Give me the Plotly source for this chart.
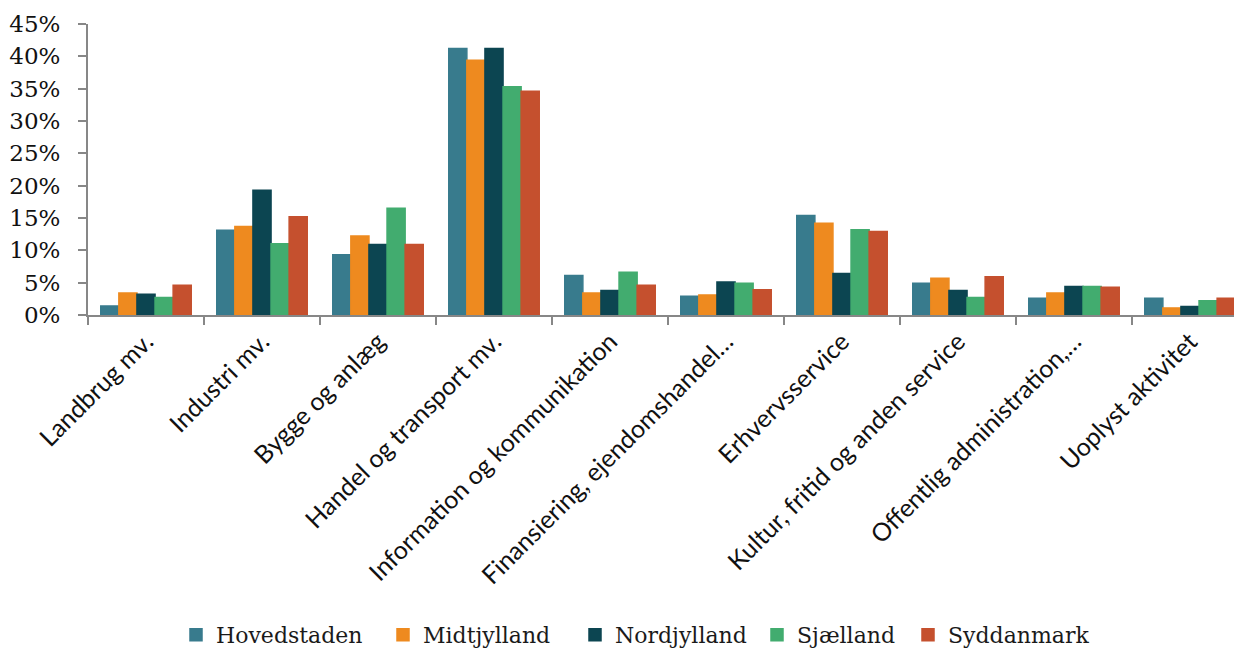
import plotly.graph_objects as go

categories = ["Landbrug mv.", "Industri mv.", "Bygge og anlæg", "Handel og transport mv.",
              "Information og kommunikation", "Finansiering, ejendomshandel…", "Erhvervsservice",
              "Kultur, fritid og anden service", "Offentlig administration,…", "Uoplyst aktivitet"]

hovedstaden = [1.4, 13.1, 9.3, 41.2, 6.1, 2.9, 15.4, 4.9, 2.6, 2.6]
midtjylland = [3.4, 13.7, 12.2, 39.4, 3.4, 3.1, 14.2, 5.7, 3.4, 1.1]
nordjylland = [3.2, 19.3, 10.9, 41.2, 3.8, 5.1, 6.4, 3.8, 4.4, 1.3]
sjaelland = [2.7, 11.0, 16.5, 35.3, 6.6, 4.9, 13.2, 2.7, 4.4, 2.2]
syddanmark = [4.6, 15.2, 10.9, 34.6, 4.6, 3.9, 12.9, 5.9, 4.3, 2.6]

series_names = ["Hovedstaden", "Midtjylland", "Nordjylland", "Sjælland", "Syddanmark"]
series_values = [hovedstaden, midtjylland, nordjylland, sjaelland, syddanmark]
series_colors = ["#387B8D", "#EE8A1F", "#0C4551", "#42AC6F", "#C5502E"]

# page offset of the html body (default 8px margin)
OFF = 8
W, H = 1242, 648
# legend entry start positions on screen (px)
legend_starts = [176, 383, 575, 757, 908]

fig = go.Figure()
legend_layout = {}
for i, (name, vals, color) in enumerate(zip(series_names, series_values, series_colors)):
    lname = "legend" if i == 0 else f"legend{i + 1}"
    fig.add_trace(go.Bar(x=categories, y=vals, name=name, marker_color=color,
                         marker_line_width=1.5, marker_line_color=color,
                         legend=lname))
    legend_layout[lname] = dict(
        orientation="h", xref="container", yref="container",
        x=(legend_starts[i] - OFF) / W, xanchor="left",
        y=(H - (635 - OFF)) / H, yanchor="middle",
        font=dict(family="DejaVu Serif", size=22, color="#1a1a1a"),
        bgcolor="rgba(0,0,0,0)", borderwidth=0, itemwidth=30,
    )

axis_color = "#878787"
fig.update_layout(
    width=W, height=H,
    margin=dict(l=88 - OFF, r=2, t=24 - OFF, b=H - (315 - OFF), autoexpand=False),
    plot_bgcolor="white", paper_bgcolor="white",
    barmode="group", bargap=0.22, bargroupgap=0,
    showlegend=True,
    xaxis=dict(type="category", range=[-0.5, 9.5], showgrid=False,
               showline=True, linecolor=axis_color, linewidth=2,
               ticks="outside", tickson="boundaries", ticklen=8, tickwidth=2,
               tickcolor=axis_color, tickangle=-45, automargin=False,
               tickfont=dict(family="Lato", size=25, color="#111111")),
    yaxis=dict(range=[0, 45], dtick=5, ticksuffix="%", showgrid=False,
               showline=True, linecolor=axis_color, linewidth=2,
               ticks="outside", ticklen=8, tickwidth=2, tickcolor=axis_color,
               zeroline=False, automargin=False, ticklabelstandoff=13,
               tickfont=dict(family="DejaVu Serif", size=23, color="#111111")),
    **legend_layout,
)

fig.write_html("out.html")
